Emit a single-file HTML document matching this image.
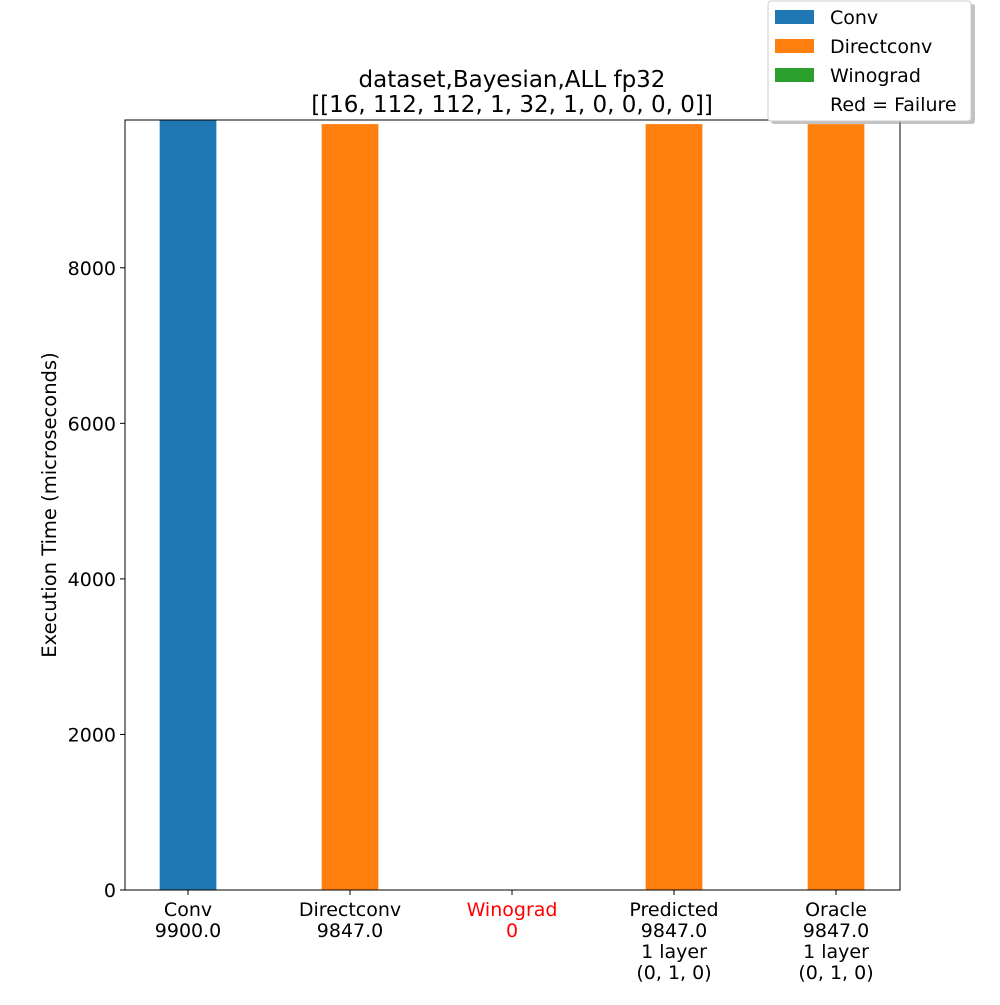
<!DOCTYPE html>
<html><head><meta charset="utf-8"><style>
body{margin:0;background:#fff;}
svg{font-family:"DejaVu Sans","Liberation Sans",sans-serif;}
</style></head><body>
<svg id="chart" width="1000" height="1000" viewBox="0 0 1000 1000" xmlns="http://www.w3.org/2000/svg">
<rect width="1000" height="1000" fill="#fff"/>
<g id="bars"></g>
<g id="axes"></g>
<text x="512" y="87" font-size="23" text-anchor="middle">dataset,Bayesian,ALL fp32</text>
<text x="512" y="112" font-size="23" text-anchor="middle">[[16, 112, 112, 1, 32, 1, 0, 0, 0, 0]]</text>
<text transform="translate(56,505) rotate(-90)" font-size="19.5" text-anchor="middle">Execution Time (microseconds)</text>
<g>
<rect x="771" y="4" width="204" height="120" rx="3" fill="#999" opacity="0.6"/>
<rect x="768" y="1" width="203" height="120" rx="3" fill="#fff" stroke="#ccc"/>
<rect x="775" y="10" width="39" height="14" fill="#1f77b4"/>
<text x="830" y="24" font-size="19">Conv</text>
<rect x="775" y="39" width="39" height="14" fill="#ff7f0e"/>
<text x="830" y="53" font-size="19">Directconv</text>
<rect x="775" y="68" width="39" height="14" fill="#2ca02c"/>
<text x="830" y="82" font-size="19">Winograd</text>
<text x="830" y="111" font-size="19">Red = Failure</text>
</g>
</svg>
<script>
const categories=["Conv","Directconv","Winograd","Predicted","Oracle"];
const values=[9900,9847,0,9847,9847];
const colors=["#1f77b4","#ff7f0e","#2ca02c","#ff7f0e","#ff7f0e"];
const labelLines=[["Conv","9900.0"],["Directconv","9847.0"],["Winograd","0"],["Predicted","9847.0","1 layer","(0, 1, 0)"],["Oracle","9847.0","1 layer","(0, 1, 0)"]];
const failed=[false,false,true,false,false];
const yTicks=[0,2000,4000,6000,8000];
const L=125,R=900,T=120,B=890,yMax=9900,xMin=-0.389,xMax=4.395,bw=0.35;
const NS="http://www.w3.org/2000/svg";
const xs=v=>L+(v-xMin)/(xMax-xMin)*(R-L);
const ys=v=>B-v/yMax*(B-T);
const bars=document.getElementById('bars'),axes=document.getElementById('axes');
function mk(tag,attrs,parent){const e=document.createElementNS(NS,tag);for(const k in attrs)e.setAttribute(k,attrs[k]);parent.appendChild(e);return e;}
values.forEach((v,i)=>{
 const r=mk('rect',{x:xs(i-bw/2),y:ys(v),width:xs(i+bw/2)-xs(i-bw/2),height:B-ys(v),fill:colors[i]},bars);
 
 
 mk('line',{x1:xs(i),x2:xs(i),y1:B,y2:B+5,stroke:'#000'},axes);
 const t=mk('text',{x:xs(i),'font-size':19,'text-anchor':'middle',fill:failed[i]?'#ff0000':'#000'},axes);
 
 
 labelLines[i].forEach((s,j)=>{const ts=mk('tspan',{x:xs(i),y:B+26+j*21},t);ts.textContent=s;});
});
const frame=mk('rect',{x:L,y:T,width:R-L,height:B-T,fill:'none',stroke:'#000','stroke-width':1},axes);


yTicks.forEach(v=>{
 mk('line',{x1:L-5,x2:L,y1:ys(v),y2:ys(v),stroke:'#000'},axes);
 const t=mk('text',{x:L-9,y:ys(v)+7,'font-size':19,'text-anchor':'end'},axes);
 
 
 t.textContent=v;
});
</script>
</body></html>
